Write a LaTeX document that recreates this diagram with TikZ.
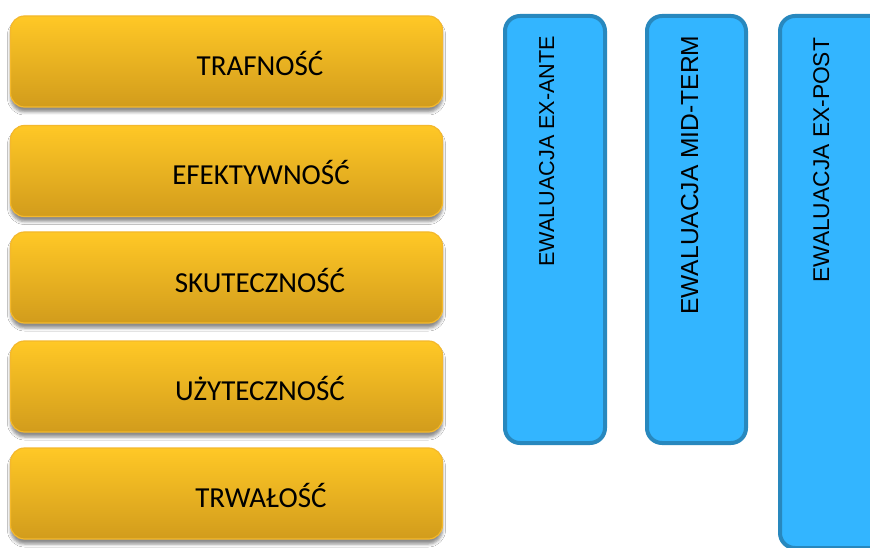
\documentclass[tikz,border=0pt]{standalone}
\usepackage{fontspec}
\setmainfont{Carlito}
\newfontfamily\arialfont{Liberation Sans}
\usetikzlibrary{shadows.blur}
\definecolor{otop}{RGB}{255,200,38}
\definecolor{obot}{RGB}{210,156,28}
\definecolor{oedge}{RGB}{244,184,44}
\definecolor{bfill}{RGB}{51,181,255}
\definecolor{bedge}{RGB}{40,136,190}
\tikzset{
  obox/.style={rounded corners=14pt, draw=oedge, line width=1.2pt,
    top color=otop, bottom color=obot, minimum width=432pt, minimum height=91pt,
    inner sep=0pt, outer sep=0pt,
    blur shadow={shadow xshift=0pt, shadow yshift=-5pt, shadow opacity=45, shadow blur radius=3pt, shadow blur extra rounding=2pt}},
  olabel/.style={anchor=base, inner sep=0pt, font=\fontsize{29}{34}\selectfont},
  bbox/.style={rounded corners=15pt, draw=bedge, fill=bfill, line width=4pt,
    inner sep=0pt, outer sep=0pt},
  blabel/.style={anchor=base west, rotate=90, inner sep=0pt},
}
\begin{document}
\begin{tikzpicture}[x=1pt, y=-1pt]
\useasboundingbox (0,0) rectangle (870,548);
\fill[white] (0,0) rectangle (870,548);
\clip (0,0) rectangle (870,548);
% orange boxes
\node[obox] (o1) at (226.5,61.5) {};
\node[obox] (o2) at (226.5,171) {};
\node[obox] (o3) at (226.5,277.5) {};
\node[obox] (o4) at (226.5,386.5) {};
\node[obox] (o5) at (226.5,493.5) {};
\node[olabel] (t1) at (260,76) {TRAFNOŚĆ};
\node[olabel] (t2) at (261,185) {EFEKTYWNOŚĆ};
\node[olabel] (t3) at (260,292) {SKUTECZNOŚĆ};
\node[olabel] (t4) at (260,400) {UŻYTECZNOŚĆ};
\node[olabel] (t5) at (261,507) {TRWAŁOŚĆ};
% blue boxes
\node[bbox, minimum width=100pt, minimum height=427pt] (b1) at (555,229.5) {};
\node[bbox, minimum width=99pt, minimum height=427pt] (b2) at (696.5,229.5) {};
\node[bbox, minimum width=130pt, minimum height=532pt] (b3) at (845,282) {};
\node[blabel, font=\arialfont\fontsize{21.6}{26}\selectfont] (l1) at (554,267) {EWALUACJA EX-ANTE};
\node[blabel, font=\arialfont\fontsize{24.6}{29}\selectfont] (l2) at (698,315) {EWALUACJA MID-TERM};
\node[blabel, font=\arialfont\fontsize{22.8}{27}\selectfont] (l3) at (829,283) {EWALUACJA EX-POST};
\end{tikzpicture}
\end{document}
